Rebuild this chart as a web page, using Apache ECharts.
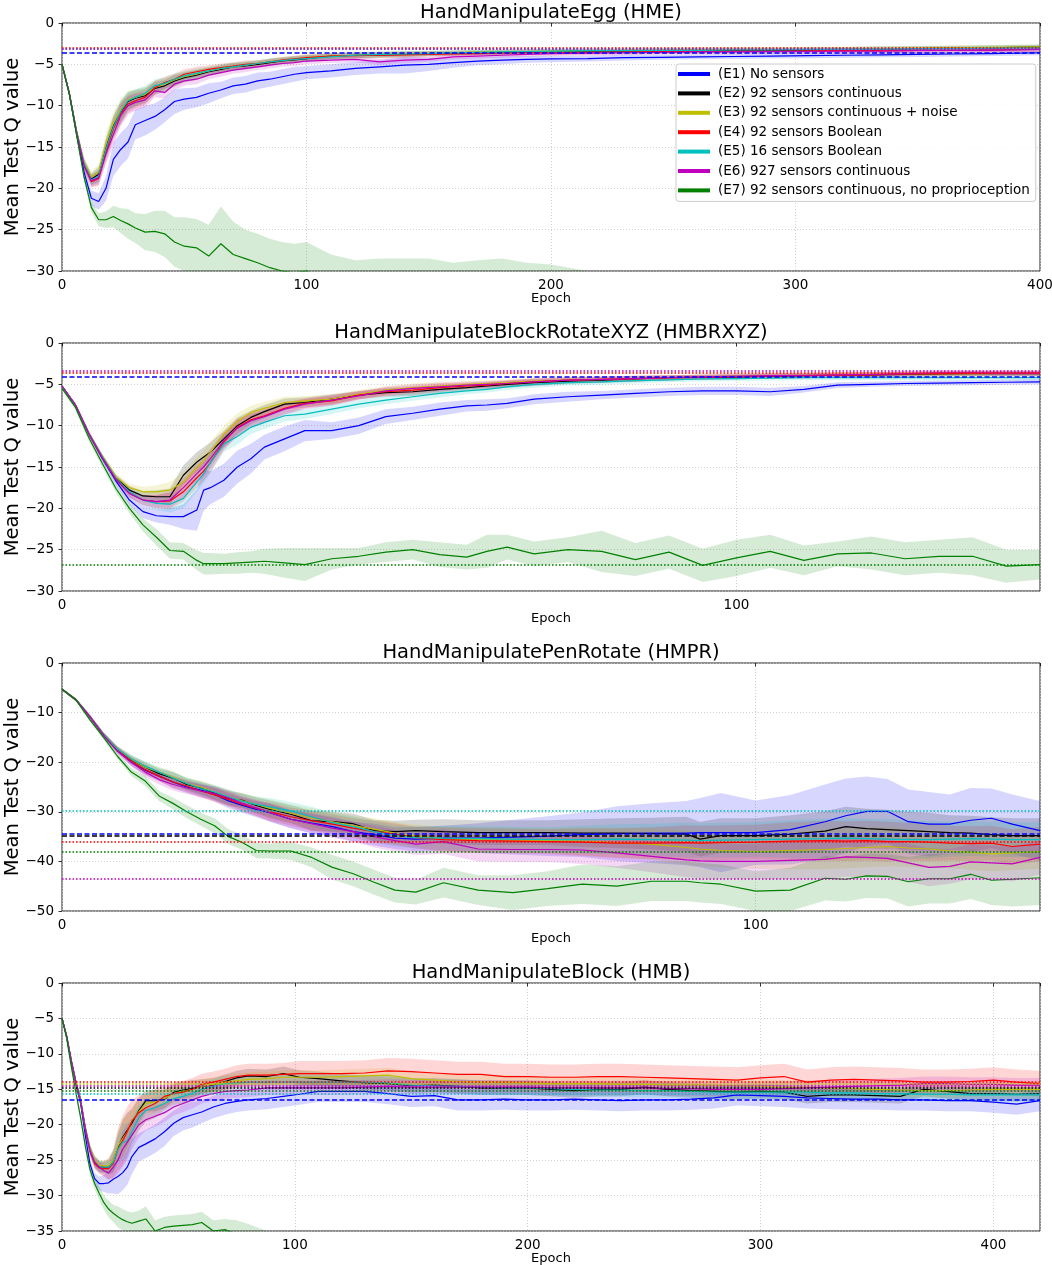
<!DOCTYPE html>
<html><head><meta charset="utf-8">
<script src="https://cdn.jsdelivr.net/npm/echarts@6/dist/echarts.min.js"></script>
<style>html,body{margin:0;padding:0;background:#fff}#chart{width:1052px;height:1265px}</style>
</head><body><div id="chart"></div>
<script>
// ---------------- DATA ----------------
const SERIES_KEYS = ['E1','E2','E3','E4','E5','E6','E7'];
const SERIES_NAMES = ['(E1) No sensors','(E2) 92 sensors continuous','(E3) 92 sensors continuous + noise','(E4) 92 sensors Boolean','(E5) 16 sensors Boolean','(E6) 927 sensors continuous','(E7) 92 sensors continuous, no proprioception'];
const PANEL_TITLES = ['HandManipulateEgg (HME)','HandManipulateBlockRotateXYZ (HMBRXYZ)','HandManipulatePenRotate (HMPR)','HandManipulateBlock (HMB)'];
const X_MAX = [400, 145, 141, 420];
const Y_MIN = [-30, -30, -50, -35];
const Y_STEP = [5, 5, 10, 5];
const X_STEP = 100;

// Panel 1 : HME
const P1_EPOCHS = [0,3,6,9,12,15,18,21,24,27,30,34,38,42,46,50,55,60,65,70,75,80,85,90,95,100,110,120,130,140,150,160,170,180,190,200,215,230,245,260,275,290,305,320,335,350,365,380,400];
const P1_E1 = [-5.0,-8.6,-13.5,-18.0,-21.2,-21.6,-20.0,-16.5,-15.3,-14.4,-12.3,-11.8,-11.3,-10.5,-9.5,-9.2,-9.0,-8.5,-8.1,-7.6,-7.4,-7.0,-6.8,-6.5,-6.2,-6.0,-5.8,-5.5,-5.3,-5.1,-5.0,-4.8,-4.6,-4.5,-4.4,-4.35,-4.3,-4.2,-4.15,-4.1,-4.05,-4.0,-3.95,-3.9,-3.85,-3.8,-3.75,-3.7,-3.6];
const P1_E2 = [-5.0,-8.5,-13.2,-17.0,-18.9,-18.3,-15.1,-12.5,-10.8,-9.5,-9.1,-8.8,-7.9,-7.6,-7.0,-6.6,-6.3,-5.9,-5.6,-5.3,-5.2,-5.0,-4.8,-4.6,-4.45,-4.3,-4.0,-3.9,-3.85,-3.8,-3.7,-3.65,-3.6,-3.55,-3.5,-3.45,-3.4,-3.4,-3.35,-3.3,-3.3,-3.3,-3.25,-3.2,-3.15,-3.1,-3.05,-3.0,-2.9];
const P1_E3 = [-5.0,-8.5,-13.1,-16.8,-18.6,-18.0,-14.5,-12.0,-10.5,-9.3,-9.0,-8.6,-7.8,-7.4,-6.9,-6.5,-6.2,-5.8,-5.5,-5.3,-5.1,-4.9,-4.7,-4.5,-4.4,-4.2,-4.0,-3.9,-3.8,-3.7,-3.65,-3.6,-3.5,-3.5,-3.45,-3.4,-3.35,-3.3,-3.3,-3.25,-3.2,-3.2,-3.2,-3.15,-3.1,-3.05,-3.0,-2.95,-2.9];
const P1_E4 = [-5.0,-8.5,-13.3,-17.2,-19.2,-18.8,-15.6,-12.8,-11.0,-9.8,-9.4,-9.0,-7.8,-7.2,-6.8,-6.2,-5.9,-5.6,-5.4,-5.2,-5.0,-4.9,-4.7,-4.5,-4.35,-4.2,-4.0,-3.95,-3.9,-3.85,-3.8,-3.75,-3.7,-3.65,-3.6,-3.6,-3.55,-3.5,-3.45,-3.45,-3.4,-3.4,-3.4,-3.35,-3.35,-3.3,-3.3,-3.25,-3.2];
const P1_E5 = [-5.0,-8.5,-13.2,-17.0,-19.0,-18.5,-15.2,-12.6,-10.7,-9.4,-9.0,-8.5,-7.6,-7.3,-6.8,-6.4,-6.1,-5.8,-5.5,-5.3,-5.1,-4.9,-4.7,-4.55,-4.4,-4.3,-4.1,-3.9,-3.8,-3.75,-3.7,-3.6,-3.55,-3.5,-3.45,-3.4,-3.35,-3.35,-3.3,-3.3,-3.25,-3.25,-3.2,-3.2,-3.15,-3.1,-3.1,-3.05,-3.0];
const P1_E6 = [-5.0,-8.5,-13.3,-17.2,-19.1,-18.7,-15.8,-13.5,-11.2,-10.0,-9.6,-9.3,-8.2,-8.4,-7.4,-7.0,-6.8,-6.3,-6.0,-5.7,-5.5,-5.3,-5.1,-4.9,-4.8,-4.6,-4.5,-4.4,-4.7,-4.5,-4.4,-4.1,-4.0,-3.9,-3.8,-3.7,-3.65,-3.6,-3.55,-3.5,-3.5,-3.45,-3.45,-3.4,-3.4,-3.35,-3.3,-3.3,-3.2];
const P1_E7 = [-5.0,-8.6,-13.6,-18.6,-22.3,-23.8,-23.8,-23.4,-23.9,-24.3,-24.8,-25.3,-25.2,-25.5,-26.5,-27.0,-27.2,-28.2,-26.7,-28.0,-28.5,-29.0,-29.6,-30.0,-30.2,-30.0,-31.5,-32.5,-32.5,-33.0,-33.0,-33.5,-33.5,-33.5,-33.5,-34.0,-34.0,-35.0,-35.0,-35.0,-35.0,-35.0,-35.0,-35.0,-35.0,-35.0,-35.0,-35.0,-35.0];
const P1_SPREAD_MAIN = [0.1,0.2,0.4,0.6,0.7,0.9,1.2,1.3,1.3,1.1,1.0,0.9,0.8,0.7,0.7,0.6,0.6,0.5,0.5,0.45,0.45,0.4,0.4,0.4,0.4,0.4,0.35,0.35,0.35,0.35,0.3,0.3,0.3,0.3,0.3,0.3,0.3,0.3,0.3,0.3,0.3,0.3,0.3,0.3,0.3,0.3,0.3,0.3,0.3];
const P1_SPREAD_E1 = [0.1,0.3,0.5,0.8,0.9,1.0,1.5,2.0,2.0,2.0,1.8,1.8,1.6,1.5,1.5,1.3,1.2,1.2,1.0,1.0,1.0,1.0,0.9,0.9,0.9,0.8,0.8,0.8,0.8,1.0,0.8,0.6,0.5,0.5,0.4,0.4,0.35,0.35,0.3,0.3,0.3,0.3,0.3,0.3,0.3,0.3,0.3,0.3,0.3];
const P1_SPREAD_E7 = [0.1,0.3,0.4,0.5,0.6,0.8,1.0,1.3,1.5,1.8,1.8,2.2,2.5,2.8,3.0,3.5,3.5,3.8,4.5,4.0,3.5,3.5,3.5,3.5,3.5,3.5,3.5,3.8,4.0,4.5,4.5,4.5,4.8,5.0,4.5,4.8,3.0,3.5,3.5,3.5,3.5,3.5,3.5,3.5,3.5,3.5,3.5,3.5,3.5];
const P1_REF_VALUES = [-3.05, -3.08, -3.1, -3.6];
const P1_REF_KEYS = ['E4', 'E5', 'E6', 'E1'];

// Panel 2 : HMBRXYZ
const P2_EPOCHS = [0,2,4,6,8,10,12,14,16,18,20,21,22,24,26,28,30,33,36,40,44,48,52,56,60,63,66,70,75,80,85,90,95,100,105,110,115,120,125,130,135,140,145];
const P2_E1 = [-5.2,-7.6,-11.0,-14.0,-16.7,-19.0,-20.4,-20.9,-21.0,-21.0,-20.2,-17.8,-17.5,-16.6,-15.0,-14.0,-12.6,-11.6,-10.6,-10.6,-10.0,-8.9,-8.5,-8.0,-7.6,-7.5,-7.3,-6.8,-6.5,-6.3,-6.1,-5.9,-5.8,-5.8,-5.9,-5.6,-5.1,-5.0,-4.9,-4.85,-4.8,-4.75,-4.7];
const P2_E2 = [-5.2,-7.5,-11.0,-13.8,-16.3,-17.8,-18.5,-18.6,-18.6,-16.0,-14.4,-13.8,-13.2,-11.6,-10.0,-9.0,-8.3,-7.4,-7.2,-6.8,-6.3,-6.0,-5.9,-5.6,-5.4,-5.2,-5.0,-4.8,-4.6,-4.5,-4.35,-4.2,-4.15,-4.1,-4.0,-3.95,-3.9,-3.85,-3.8,-3.75,-3.7,-3.7,-3.7];
const P2_E3 = [-5.2,-7.5,-11.0,-13.7,-16.2,-17.5,-18.0,-18.0,-17.8,-16.8,-15.0,-14.2,-13.2,-11.0,-9.5,-8.4,-7.9,-7.2,-7.0,-6.8,-6.2,-5.7,-5.4,-5.2,-5.0,-4.9,-4.8,-4.6,-4.5,-4.4,-4.3,-4.2,-4.1,-4.0,-3.95,-3.9,-3.85,-3.8,-3.75,-3.7,-3.7,-3.65,-3.65];
const P2_E4 = [-5.2,-7.5,-11.0,-13.9,-16.5,-18.2,-19.0,-19.2,-19.1,-18.0,-16.3,-15.5,-14.5,-12.0,-10.2,-9.3,-8.8,-7.9,-7.3,-7.0,-6.3,-5.9,-5.7,-5.4,-5.2,-5.1,-4.9,-4.7,-4.5,-4.4,-4.3,-4.2,-4.15,-4.1,-4.0,-3.95,-3.9,-3.85,-3.75,-3.7,-3.65,-3.65,-3.65];
const P2_E5 = [-5.2,-7.5,-11.0,-13.8,-16.4,-18.0,-19.0,-19.4,-19.5,-18.8,-16.8,-15.8,-14.5,-12.2,-11.3,-10.2,-9.6,-8.8,-8.6,-8.0,-7.4,-6.9,-6.5,-6.1,-5.8,-5.6,-5.3,-5.0,-4.8,-4.7,-4.55,-4.45,-4.35,-4.3,-4.25,-4.2,-4.2,-4.2,-4.2,-4.2,-4.2,-4.2,-4.2];
const P2_E6 = [-5.2,-7.5,-11.0,-13.9,-16.5,-18.2,-19.0,-19.2,-19.0,-17.5,-15.8,-15.0,-14.0,-11.8,-10.3,-9.4,-8.9,-8.0,-7.4,-6.9,-6.4,-5.8,-5.5,-5.3,-5.1,-5.0,-4.9,-4.7,-4.5,-4.4,-4.3,-4.2,-4.1,-4.0,-3.95,-3.9,-3.85,-3.8,-3.7,-3.6,-3.6,-3.65,-3.65];
const P2_E7 = [-5.5,-7.8,-11.5,-14.6,-17.6,-20.0,-22.0,-23.5,-25.1,-25.2,-26.3,-26.7,-26.7,-26.7,-26.6,-26.5,-26.4,-26.6,-26.8,-26.1,-25.8,-25.3,-25.0,-25.6,-25.9,-25.2,-24.7,-25.5,-25.0,-25.2,-26.2,-25.3,-26.9,-26.0,-25.2,-26.3,-25.5,-25.4,-26.1,-25.8,-25.8,-27.0,-26.8];
const P2_SPREAD_MAIN = [0.1,0.2,0.3,0.3,0.4,0.5,0.6,0.8,1.0,1.2,1.2,1.2,1.2,1.0,1.0,0.8,0.8,0.7,0.6,0.6,0.5,0.5,0.5,0.5,0.4,0.4,0.4,0.4,0.35,0.35,0.35,0.3,0.3,0.3,0.3,0.3,0.3,0.3,0.3,0.3,0.3,0.3,0.3];
const P2_SPREAD_E1 = [0.1,0.2,0.3,0.4,0.5,0.6,0.8,0.8,1.0,1.5,2.5,2.5,2.0,2.0,2.0,1.8,1.5,1.5,1.3,1.0,1.0,0.9,0.8,0.8,0.7,0.7,0.6,0.6,0.6,0.5,0.5,0.5,0.5,0.5,0.5,0.4,0.35,0.3,0.3,0.3,0.3,0.3,0.3];
const P2_SPREAD_E7 = [0.2,0.3,0.4,0.5,0.5,0.6,0.8,1.0,1.0,1.0,1.2,1.3,1.3,1.2,1.3,1.3,1.5,1.8,2.0,1.3,1.0,1.2,1.2,1.5,1.5,2.0,1.5,1.5,1.5,2.5,2.0,2.0,2.0,2.2,2.0,1.8,1.5,2.0,2.0,2.0,2.3,2.0,1.8];
const P2_REF_VALUES = [-3.4, -3.55, -4.1, -26.8];
const P2_REF_KEYS = ['E6', 'E4', 'E1', 'E7'];

// Panel 3 : HMPR
const P3_EPOCHS = [0,2,4,6,8,10,12,14,16,18,20,22,24,26,28,30,33,36,39,42,45,48,51,55,60,65,70,75,80,85,90,92,95,100,105,110,113,116,119,122,125,128,131,134,137,141];
const P3_E1 = [-5.3,-7.4,-10.8,-14.5,-17.6,-20.0,-21.6,-22.8,-24.0,-25.0,-25.6,-26.5,-27.8,-28.7,-29.5,-30.2,-31.5,-32.3,-33.0,-34.0,-34.6,-35.3,-35.5,-35.3,-35.3,-35.1,-34.9,-34.6,-34.4,-34.3,-34.3,-34.2,-34.2,-34.2,-33.6,-32.0,-30.8,-29.9,-29.9,-32.0,-32.5,-32.5,-31.7,-31.3,-32.5,-33.8];
const P3_E2 = [-5.3,-7.4,-10.8,-14.5,-17.4,-19.5,-21.0,-22.3,-23.2,-24.5,-25.2,-26.2,-27.3,-27.7,-28.7,-29.5,-30.5,-31.8,-32.0,-32.4,-33.8,-34.0,-33.8,-34.0,-34.2,-34.2,-34.2,-34.3,-34.3,-34.4,-34.5,-35.5,-34.8,-34.8,-34.5,-33.9,-33.0,-33.4,-33.6,-33.8,-34.0,-34.2,-34.3,-34.6,-34.8,-34.8];
const P3_E3 = [-5.3,-7.4,-10.8,-14.5,-17.4,-19.4,-21.0,-22.0,-23.0,-24.3,-25.0,-26.0,-27.0,-27.8,-28.5,-29.3,-30.3,-31.3,-32.0,-32.8,-33.5,-34.3,-34.8,-35.5,-35.6,-35.7,-35.8,-35.9,-36.2,-36.5,-37.2,-37.5,-37.8,-38.0,-37.8,-37.6,-37.4,-37.2,-37.0,-37.3,-37.5,-37.9,-38.2,-38.5,-38.3,-38.0];
const P3_E4 = [-5.3,-7.4,-10.8,-14.5,-17.5,-19.8,-21.5,-22.8,-24.0,-24.8,-25.8,-26.6,-27.5,-28.5,-29.3,-30.0,-31.0,-31.8,-32.5,-33.3,-34.0,-34.5,-35.2,-35.6,-35.8,-35.9,-36.0,-36.1,-36.3,-36.3,-36.2,-36.3,-36.2,-36.1,-35.9,-35.8,-35.9,-35.8,-36.0,-36.0,-36.1,-36.3,-36.4,-36.3,-37.0,-36.5];
const P3_E5 = [-5.3,-7.4,-10.8,-14.5,-17.4,-19.3,-20.8,-22.0,-23.2,-24.3,-25.3,-26.0,-27.0,-27.9,-28.5,-29.0,-29.8,-31.0,-32.2,-33.0,-34.0,-34.8,-35.2,-35.3,-35.4,-35.5,-35.6,-35.6,-35.5,-35.6,-35.7,-35.8,-35.7,-35.6,-35.5,-35.4,-35.3,-35.4,-35.5,-35.6,-35.6,-35.5,-35.4,-35.5,-35.6,-35.6];
const P3_E6 = [-5.3,-7.4,-10.8,-14.6,-17.8,-20.0,-22.0,-23.5,-24.5,-25.2,-25.8,-26.3,-27.2,-28.3,-29.2,-30.2,-31.5,-32.4,-33.3,-34.0,-35.0,-35.8,-36.5,-36.0,-37.5,-37.6,-37.6,-37.7,-38.3,-39.0,-39.7,-39.9,-40.0,-40.0,-39.8,-39.6,-39.1,-39.2,-39.4,-40.3,-41.2,-41.0,-40.1,-40.3,-40.5,-39.2];
const P3_E7 = [-5.3,-7.4,-11.4,-15.0,-18.8,-22.0,-23.8,-26.8,-28.3,-30.0,-31.5,-32.8,-35.0,-36.2,-37.8,-37.9,-37.9,-39.2,-41.2,-42.5,-44.2,-45.8,-46.2,-44.3,-45.8,-46.3,-45.5,-44.6,-45.0,-44.0,-44.0,-44.3,-44.6,-46.0,-45.8,-43.4,-43.6,-42.9,-43.0,-44.1,-43.5,-43.5,-42.6,-43.8,-43.6,-43.3];
const P3_SPREAD_MAIN = [0.2,0.3,0.4,0.5,0.6,0.8,1.0,1.0,1.2,1.2,1.3,1.4,1.5,1.5,1.6,1.8,1.8,2.0,2.0,2.0,2.2,2.2,2.2,2.5,2.5,2.5,2.5,2.8,3.0,3.2,3.5,3.5,3.5,3.5,3.8,4.0,4.0,4.0,4.0,3.8,3.8,3.5,3.5,3.5,3.5,3.5];
const P3_SPREAD_E1 = [0.2,0.3,0.4,0.5,0.6,0.8,1.0,1.0,1.2,1.2,1.3,1.4,1.5,1.5,1.6,1.8,1.8,2.0,2.0,2.0,2.2,2.2,2.5,2.5,3.0,3.5,4.0,4.5,5.5,6.0,6.5,7.0,8.0,6.5,7.0,7.5,7.5,7.0,6.5,6.5,6.5,6.0,6.5,6.0,6.0,6.0];
const P3_SPREAD_E7 = [0.2,0.3,0.4,0.5,0.6,0.8,1.0,1.0,1.2,1.3,1.3,1.5,1.5,1.5,1.5,1.5,1.8,2.0,2.5,2.5,2.5,2.5,2.5,3.0,3.0,3.5,3.5,4.0,4.0,4.0,4.0,4.0,4.0,4.0,4.5,4.5,4.5,4.5,4.5,5.0,5.0,5.0,5.0,5.0,5.5,5.5];
const P3_REF_VALUES = [-29.7, -34.5, -34.8, -36.1, -38.0, -43.5];
const P3_REF_KEYS = ['E5', 'E1', 'E2', 'E4', 'E7', 'E6'];

// Panel 4 : HMB
const P4_EPOCHS = [0,2,4,6,8,10,12,14,16,18,20,22,24,26,28,30,33,36,40,44,48,52,56,60,65,70,75,80,88,95,102,110,120,130,140,150,160,170,180,190,200,210,220,230,240,250,260,270,280,290,300,310,320,330,340,350,360,370,380,390,400,410,420];
const P4_E1 = [-5.0,-7.6,-11.3,-14.3,-17.0,-21.5,-25.5,-27.6,-28.3,-28.3,-28.2,-27.7,-27.3,-26.8,-26.0,-24.5,-23.2,-22.7,-22.0,-21.0,-19.8,-19.0,-18.6,-18.2,-17.5,-17.0,-16.7,-16.5,-16.3,-16.0,-15.7,-15.3,-15.3,-15.3,-15.6,-16.0,-15.9,-16.5,-16.5,-16.4,-16.5,-16.5,-16.4,-16.5,-16.6,-16.5,-16.5,-16.4,-16.2,-15.8,-15.9,-16.0,-16.2,-16.3,-16.4,-16.4,-16.5,-16.5,-16.6,-16.6,-16.8,-17.1,-16.6];
const P4_E2 = [-5.0,-7.5,-11.0,-14.0,-16.5,-20.5,-23.5,-25.2,-25.9,-26.0,-26.0,-25.2,-23.2,-21.8,-20.8,-19.8,-18.0,-16.6,-16.6,-16.4,-15.4,-15.1,-14.9,-14.6,-14.4,-13.9,-13.4,-13.1,-13.2,-12.8,-13.3,-13.5,-13.8,-14.1,-14.2,-14.5,-14.4,-14.6,-14.8,-14.8,-14.8,-15.0,-15.2,-15.0,-15.0,-14.7,-15.0,-15.2,-15.3,-15.4,-15.3,-15.4,-16.0,-15.8,-15.8,-15.9,-16.0,-15.0,-15.3,-15.6,-15.6,-15.7,-15.6];
const P4_E3 = [-5.0,-7.5,-11.0,-14.0,-16.5,-20.3,-23.3,-25.0,-25.7,-25.8,-25.8,-25.0,-23.0,-22.0,-21.0,-19.5,-18.2,-17.0,-16.8,-16.3,-15.6,-15.3,-15.0,-14.6,-14.3,-14.0,-13.8,-13.6,-13.5,-13.3,-13.3,-13.3,-13.2,-13.1,-13.0,-13.5,-13.7,-13.9,-14.0,-14.0,-14.1,-14.2,-14.2,-14.2,-14.3,-14.3,-14.4,-14.4,-14.5,-14.5,-14.6,-14.7,-14.7,-14.8,-14.9,-15.0,-15.1,-15.2,-15.2,-15.1,-15.0,-15.0,-15.0];
const P4_E4 = [-5.0,-7.5,-11.0,-14.2,-16.8,-20.7,-23.8,-25.5,-26.1,-26.2,-26.2,-25.5,-23.5,-22.3,-21.0,-19.5,-18.3,-17.6,-17.0,-16.0,-15.6,-15.4,-15.0,-14.3,-14.0,-13.6,-13.2,-13.0,-13.0,-12.9,-12.8,-12.8,-12.8,-12.7,-12.4,-12.5,-12.7,-12.9,-12.9,-13.2,-13.2,-13.3,-13.3,-13.2,-13.2,-13.3,-13.4,-13.5,-13.6,-13.7,-13.4,-13.2,-14.0,-13.7,-13.6,-13.7,-13.8,-14.0,-14.0,-13.9,-13.7,-14.0,-14.2];
const P4_E5 = [-5.0,-7.5,-11.0,-14.0,-16.6,-20.5,-23.5,-25.3,-25.9,-26.0,-26.0,-25.3,-23.5,-22.5,-22.3,-21.0,-19.0,-18.0,-17.6,-17.0,-16.3,-16.0,-15.6,-15.0,-14.6,-14.2,-14.1,-14.0,-14.0,-14.0,-14.0,-14.0,-14.0,-14.0,-14.1,-14.4,-14.5,-14.6,-14.7,-14.8,-14.8,-14.9,-15.0,-15.1,-15.1,-15.2,-15.2,-15.3,-15.4,-15.4,-15.4,-15.4,-15.4,-15.5,-15.5,-15.6,-15.6,-15.7,-15.7,-15.8,-15.8,-15.8,-15.8];
const P4_E6 = [-5.0,-7.5,-11.0,-14.1,-16.7,-20.6,-23.6,-25.3,-26.0,-26.5,-26.8,-26.0,-25.0,-23.5,-22.5,-21.5,-20.0,-19.3,-18.8,-18.3,-17.5,-17.0,-16.5,-16.0,-15.6,-15.3,-15.2,-15.1,-14.8,-14.8,-14.8,-14.8,-14.8,-14.7,-14.6,-14.7,-14.7,-14.7,-14.7,-14.7,-14.7,-14.8,-14.8,-14.8,-14.8,-14.8,-14.9,-14.9,-15.0,-15.0,-15.0,-14.9,-14.8,-14.7,-14.6,-14.5,-14.4,-14.2,-14.2,-14.3,-14.3,-14.4,-14.4];
const P4_E7 = [-5.0,-7.8,-11.8,-15.5,-19.0,-23.0,-26.3,-28.3,-29.7,-31.0,-31.9,-32.5,-33.0,-33.4,-33.7,-33.9,-33.6,-33.3,-35.0,-34.5,-34.3,-34.2,-34.1,-33.8,-35.0,-34.8,-35.5,-36.0,-36.5,-37.0,-37.5,-38.0,-38.0,-38.0,-38.0,-38.0,-38.0,-38.0,-38.0,-38.0,-38.0,-38.0,-38.0,-38.0,-38.0,-38.0,-38.0,-38.0,-38.0,-38.0,-38.0,-38.0,-38.0,-38.0,-38.0,-38.0,-38.0,-38.0,-38.0,-38.0,-38.0,-38.0,-38.0];
const P4_SPREAD_MAIN = [0.1,0.2,0.3,0.4,0.5,0.6,0.7,0.8,0.8,0.8,1.0,1.5,2.0,2.5,2.5,2.0,1.8,1.5,1.5,1.3,1.2,1.2,1.2,1.0,1.0,1.0,1.0,1.0,1.0,1.0,1.0,1.0,1.0,1.0,1.0,1.0,1.0,1.0,1.0,1.0,1.0,1.0,1.0,1.0,1.0,1.0,1.0,1.0,1.0,1.0,1.0,1.0,1.0,1.0,1.0,1.0,1.0,1.0,1.0,1.0,1.0,1.0,1.0];
const P4_SPREAD_E4 = [0.1,0.2,0.3,0.4,0.5,0.6,0.7,0.8,0.8,1.0,1.5,2.0,3.0,3.5,3.5,3.0,2.5,2.0,2.0,1.8,1.6,1.6,1.6,1.5,1.5,1.5,1.6,1.6,1.6,1.6,1.8,1.8,1.8,1.8,1.8,1.8,1.8,1.8,1.8,1.8,1.8,1.8,1.8,1.8,1.8,1.8,1.8,1.8,1.8,1.8,1.8,1.8,1.8,1.8,1.8,1.8,1.8,1.8,1.8,1.8,1.8,1.8,1.8];
const P4_SPREAD_E1 = [0.1,0.2,0.3,0.4,0.5,0.6,0.7,0.8,1.0,1.2,1.5,2.0,2.5,2.5,2.5,2.5,2.0,2.0,2.0,2.0,1.8,1.8,1.8,1.6,1.6,1.6,1.5,1.5,1.5,1.5,1.5,1.5,1.5,1.5,1.5,1.5,1.5,1.5,1.5,1.5,1.5,1.5,1.5,1.5,1.5,1.5,1.5,1.5,1.5,1.5,1.5,1.5,1.5,1.5,1.5,1.5,1.5,1.5,1.5,1.5,1.5,1.5,1.5];
const P4_SPREAD_E7 = [0.1,0.3,0.4,0.5,0.6,0.7,0.8,0.8,1.0,1.0,1.2,1.2,1.5,1.5,1.5,1.5,1.5,1.8,1.5,1.5,1.5,1.5,1.5,1.5,1.5,1.5,2.0,2.0,1.5,1.5,1.5,1.5,1.5,1.5,1.5,1.5,1.5,1.5,1.5,1.5,1.5,1.5,1.5,1.5,1.5,1.5,1.5,1.5,1.5,1.5,1.5,1.5,1.5,1.5,1.5,1.5,1.5,1.5,1.5,1.5,1.5,1.5,1.5];
const P4_REF_VALUES = [-13.9, -14.2, -14.5, -14.8, -15.2, -15.7, -16.5];
const P4_REF_KEYS = ['E4', 'E3', 'E6', 'E2', 'E7', 'E5', 'E1'];

// ---------------- STYLE / LAYOUT ----------------
const COLORS = {E1:'#0000ff', E2:'#000000', E3:'#bfbf00', E4:'#ff0000', E5:'#00bfbf', E6:'#bf00bf', E7:'#008000'};
const FONT = 'DejaVu Sans';
const GRID_LEFT = 62, GRID_WIDTH = 978, GRID_HEIGHT = 248;
const GRID_TOPS = [23, 343, 663, 983];
const DASHED = [['E1'], ['E1'], ['E1', 'E2'], ['E1']];

function rgba(hex, a) {
  const n = parseInt(hex.slice(1), 16);
  return 'rgba(' + ((n >> 16) & 255) + ',' + ((n >> 8) & 255) + ',' + (n & 255) + ',' + a + ')';
}

const panels = [
  {epochs: P1_EPOCHS, means: {E1:P1_E1,E2:P1_E2,E3:P1_E3,E4:P1_E4,E5:P1_E5,E6:P1_E6,E7:P1_E7},
   spreads: {E1:P1_SPREAD_E1,E2:P1_SPREAD_MAIN,E3:P1_SPREAD_MAIN,E4:P1_SPREAD_MAIN,E5:P1_SPREAD_MAIN,E6:P1_SPREAD_MAIN,E7:P1_SPREAD_E7},
   refValues: P1_REF_VALUES, refKeys: P1_REF_KEYS},
  {epochs: P2_EPOCHS, means: {E1:P2_E1,E2:P2_E2,E3:P2_E3,E4:P2_E4,E5:P2_E5,E6:P2_E6,E7:P2_E7},
   spreads: {E1:P2_SPREAD_E1,E2:P2_SPREAD_MAIN,E3:P2_SPREAD_MAIN,E4:P2_SPREAD_MAIN,E5:P2_SPREAD_MAIN,E6:P2_SPREAD_MAIN,E7:P2_SPREAD_E7},
   refValues: P2_REF_VALUES, refKeys: P2_REF_KEYS},
  {epochs: P3_EPOCHS, means: {E1:P3_E1,E2:P3_E2,E3:P3_E3,E4:P3_E4,E5:P3_E5,E6:P3_E6,E7:P3_E7},
   spreads: {E1:P3_SPREAD_E1,E2:P3_SPREAD_MAIN,E3:P3_SPREAD_MAIN,E4:P3_SPREAD_MAIN,E5:P3_SPREAD_MAIN,E6:P3_SPREAD_MAIN,E7:P3_SPREAD_E7},
   refValues: P3_REF_VALUES, refKeys: P3_REF_KEYS},
  {epochs: P4_EPOCHS, means: {E1:P4_E1,E2:P4_E2,E3:P4_E3,E4:P4_E4,E5:P4_E5,E6:P4_E6,E7:P4_E7},
   spreads: {E1:P4_SPREAD_E1,E2:P4_SPREAD_MAIN,E3:P4_SPREAD_MAIN,E4:P4_SPREAD_E4,E5:P4_SPREAD_MAIN,E6:P4_SPREAD_MAIN,E7:P4_SPREAD_E7},
   refValues: P4_REF_VALUES, refKeys: P4_REF_KEYS}
];

const grids = [], xAxes = [], yAxes = [], series = [], titles = [];
const splitStyle = {show: true, lineStyle: {color: '#c6c6c6', type: [1, 2], width: 0.8}};
const tickStyle = {show: true, inside: false, length: 3.5, lineStyle: {color: '#000', width: 0.8}};

panels.forEach((p, pi) => {
  grids.push({left: GRID_LEFT, top: GRID_TOPS[pi], width: GRID_WIDTH, height: GRID_HEIGHT,
    containLabel: false, outerBoundsMode: 'none',
    show: true, borderColor: '#222', borderWidth: 1, backgroundColor: 'transparent'});
  xAxes.push({type: 'value', gridIndex: pi, min: 0, max: X_MAX[pi], interval: X_STEP,
    name: 'Epoch', nameLocation: 'middle', nameGap: 20, nameMoveOverlap: false,
    nameTextStyle: {fontFamily: FONT, fontSize: 13, color: '#000', lineHeight: 15},
    axisLine: {show: false}, axisTick: tickStyle,
    axisLabel: {fontFamily: FONT, fontSize: 13.5, color: '#000', margin: 7,
      formatter: v => (v % X_STEP === 0 ? String(v) : '')},
    splitLine: splitStyle});
  yAxes.push({type: 'value', gridIndex: pi, min: Y_MIN[pi], max: 0, interval: Y_STEP[pi],
    name: 'Mean Test Q value', nameLocation: 'middle', nameGap: 38, nameMoveOverlap: false,
    nameTextStyle: {fontFamily: FONT, fontSize: 19.5, color: '#000', lineHeight: 22},
    axisLine: {show: false}, axisTick: tickStyle,
    axisLabel: {fontFamily: FONT, fontSize: 13.5, color: '#000', margin: 8,
      formatter: v => (v < 0 ? '\u2212' + Math.abs(v) : String(v))},
    splitLine: splitStyle});
  titles.push({text: PANEL_TITLES[pi], left: 551, top: GRID_TOPS[pi] - 21, textAlign: 'center', padding: 0,
    textStyle: {fontFamily: FONT, fontSize: 19.5, fontWeight: 'normal', color: '#000', lineHeight: 22}});

  SERIES_KEYS.forEach((k, ki) => {
    const mean = p.means[k], spr = p.spreads[k];
    const bandData = p.epochs.map((e, i) => [e, mean[i] - spr[i], mean[i] + spr[i]]);
    series.push({
      type: 'custom', name: 'band-' + pi + '-' + k, xAxisIndex: pi, yAxisIndex: pi,
      data: bandData, encode: {x: 0, y: [1, 2]}, clip: true, silent: true, z: 1,
      renderItem: function (params, api) {
        if (params.dataIndex !== 0) return null;
        const up = bandData.map(d => api.coord([d[0], d[2]]));
        const lo = bandData.map(d => api.coord([d[0], d[1]])).reverse();
        const pts = echarts.graphic.clipPointsByRect(up.concat(lo), params.coordSys);
        return {type: 'polygon', shape: {points: pts}, style: {fill: rgba(COLORS[k], 0.16)}, silent: true};
      }
    });
  });

  SERIES_KEYS.forEach((k, ki) => {
    const mean = p.means[k];
    const s = {
      type: 'line', name: SERIES_NAMES[ki], xAxisIndex: pi, yAxisIndex: pi,
      data: p.epochs.map((e, i) => [e, mean[i]]),
      symbol: 'none', showSymbol: false, clip: true, silent: true, z: 3,
      lineStyle: {color: COLORS[k], width: 1.2}, itemStyle: {color: COLORS[k]}
    };
    const refData = [];
    p.refKeys.forEach((rk, ri) => {
      if (rk === k) {
        const dashed = DASHED[pi].indexOf(k) >= 0;
        refData.push({yAxis: p.refValues[ri],
          lineStyle: {color: COLORS[k], width: 1.6, type: dashed ? [5, 2.5] : [1.6, 1.9]}});
      }
    });
    if (refData.length) {
      s.markLine = {silent: true, symbol: ['none', 'none'], label: {show: false}, animation: false, data: refData};
    }
    series.push(s);
  });
});

const chart = echarts.init(document.getElementById('chart'), null, {renderer: 'canvas'});
chart.setOption({
  animation: false,
  backgroundColor: '#ffffff',
  title: titles,
  grid: grids,
  xAxis: xAxes,
  yAxis: yAxes,
  legend: {
    data: SERIES_NAMES, orient: 'vertical', left: 676, top: 64,
    padding: [2, 6, 3, 2], itemGap: 3.4, itemWidth: 32, itemHeight: 4, icon: 'rect',
    backgroundColor: 'rgba(255,255,255,0.85)', borderColor: '#cccccc', borderWidth: 1, borderRadius: 3,
    selectedMode: false,
    textStyle: {fontFamily: FONT, fontSize: 13.5, color: '#000', lineHeight: 16, padding: [0, 0, 0, 3]}
  },
  series: series
});
</script>
</body></html>
